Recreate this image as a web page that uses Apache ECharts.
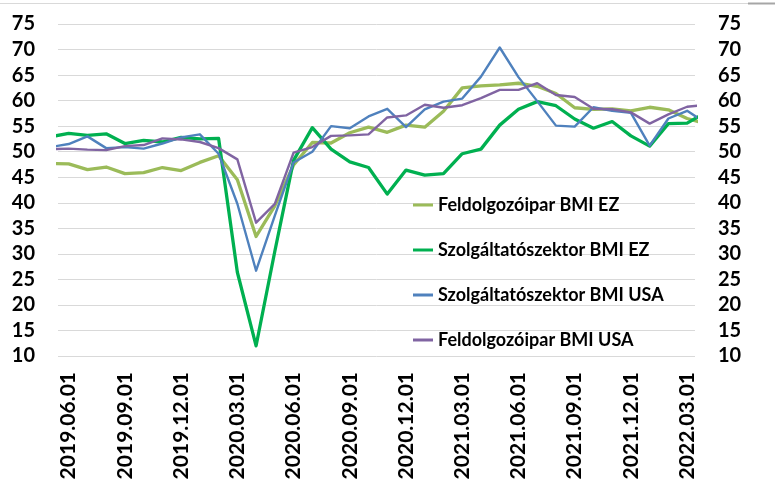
<!DOCTYPE html>
<html>
<head>
<meta charset="utf-8">
<script src="https://cdn.jsdelivr.net/npm/echarts@6.0.0/dist/echarts.min.js"></script>
<style>
  html, body { margin: 0; padding: 0; background: #fff; }
  #chart { width: 775px; height: 485px; }
</style>
</head>
<body>
<div id="chart"></div>
<script>
// havi dátumok (az első és az utolsó pont a rajzterület szélén le van vágva)
var months = [
  '2019.05.01', '2019.06.01', '2019.07.01', '2019.08.01', '2019.09.01', '2019.10.01', '2019.11.01', '2019.12.01',
  '2020.01.01', '2020.02.01', '2020.03.01', '2020.04.01', '2020.05.01', '2020.06.01',
  '2020.07.01', '2020.08.01', '2020.09.01', '2020.10.01', '2020.11.01', '2020.12.01',
  '2021.01.01', '2021.02.01', '2021.03.01', '2021.04.01', '2021.05.01', '2021.06.01',
  '2021.07.01', '2021.08.01', '2021.09.01', '2021.10.01', '2021.11.01', '2021.12.01',
  '2022.01.01', '2022.02.01', '2022.03.01', '2022.04.01'
];
var tickLabels = ['2019.06.01', '2019.09.01', '2019.12.01', '2020.03.01', '2020.06.01', '2020.09.01',
  '2020.12.01', '2021.03.01', '2021.06.01', '2021.09.01', '2021.12.01', '2022.03.01'];
var yTicks = [10, 75, 5]; // min, max, lépés

var feldEZ = [47.7, 47.6, 46.5, 47.0, 45.7, 45.9, 46.9, 46.3,
  47.9, 49.2, 44.5, 33.4, 39.4, 47.4, 51.8, 51.7, 53.7, 54.8, 53.8, 55.2,
  54.8, 57.9, 62.5, 62.9, 63.1, 63.4, 62.8, 61.4, 58.6, 58.3, 58.4, 58.0,
  58.7, 58.2, 56.5, 55.5];
var szolgEZ = [52.9, 53.6, 53.2, 53.5, 51.6, 52.2, 51.9, 52.8,
  52.5, 52.6, 26.4, 12.0, 30.5, 48.3, 54.7, 50.5, 48.0, 46.9, 41.7, 46.4,
  45.4, 45.7, 49.6, 50.5, 55.2, 58.3, 59.8, 59.0, 56.4, 54.6, 55.9, 53.1,
  51.1, 55.5, 55.6, 57.7];
var szolgUSA = [50.9, 51.5, 53.0, 50.7, 50.9, 50.6, 51.6, 52.8,
  53.4, 49.6, 39.8, 26.7, 37.5, 47.9, 50.0, 55.0, 54.6, 56.9, 58.4, 54.8,
  58.3, 59.8, 60.4, 64.7, 70.4, 64.6, 59.9, 55.1, 54.9, 58.7, 58.0, 57.6,
  51.2, 56.5, 58.0, 55.6];
var feldUSA = [50.5, 50.6, 50.4, 50.3, 51.1, 51.3, 52.6, 52.4,
  51.9, 50.7, 48.5, 36.1, 39.8, 49.8, 50.9, 53.1, 53.2, 53.4, 56.7, 57.1,
  59.2, 58.6, 59.1, 60.5, 62.1, 62.1, 63.4, 61.1, 60.7, 58.4, 58.3, 57.7,
  55.5, 57.3, 58.8, 59.2];

var seriesNames = ['Feldolgozóipar BMI EZ', 'Szolgáltatószektor BMI EZ', 'Szolgáltatószektor BMI USA', 'Feldolgozóipar BMI USA'];
var seriesData = [feldEZ, szolgEZ, szolgUSA, feldUSA];
var seriesColors = ['#9BBB59', '#00B050', '#4F81BD', '#8064A2'];
var seriesWidth = [3.3, 3.3, 2.4, 2.4];

var font = 'Lato, "Open Sans", sans-serif';

//pontok: [hónap sorszáma, érték]
function toPoints(arr) {
  var out = [];
  for (var i = 0; i < arr.length; i++) {
    out.push([i, arr[i]]);
  }
  return out;
}

var series = [];
for (var s = 0; s < seriesNames.length; s++) {
  series.push({
    name: seriesNames[s],
    type: 'line',
    data: toPoints(seriesData[s]),
    symbol: 'none',
    color: seriesColors[s],
    lineStyle: { width: seriesWidth[s], color: seriesColors[s], join: 'round' },
    emphasis: { disabled: true },
    clip: true
  });
}

var yAxisBase = {
  type: 'value',
  min: yTicks[0],
  max: yTicks[1],
  interval: yTicks[2],
  axisLine: { show: false },
  axisTick: { show: false },
  axisLabel: { color: '#000', fontSize: 20, fontWeight: 'bold', fontFamily: font, margin: 23 }
};

var chart = echarts.init(document.getElementById('chart'));
chart.setOption({
  backgroundColor: '#fff',
  animation: false,
  grid: { left: 58, right: 80, top: 24, bottom: 129, containLabel: false },
  legend: {
    orient: 'vertical',
    left: 408,
    top: 190,
    icon: 'rect',
    itemWidth: 20,
    itemHeight: 3,
    itemGap: 25,
    data: seriesNames,
    textStyle: { color: '#000', fontSize: 18, fontWeight: 'bold', fontFamily: font, lineHeight: 20 }
  },
  xAxis: {
    type: 'value',
    min: 0.43,
    max: 34.42,
    axisLine: { show: false },
    axisTick: { show: false },
    splitLine: { show: false },
    axisLabel: {
      customValues: tickLabels.map(function (l) { return months.indexOf(l); }),
      formatter: function (v) { return months[Math.round(v)]; },
      rotate: 90,
      margin: 16,
      color: '#000',
      fontSize: 21,
      fontWeight: 'bold',
      fontFamily: font
    }
  },
  yAxis: [
    Object.assign({}, yAxisBase, {
      position: 'left',
      splitLine: { lineStyle: { color: '#D9D9D9', width: 1 } }
    }),
    Object.assign({}, yAxisBase, {
      position: 'right',
      splitLine: { show: false }
    })
  ],
  graphic: [
    { type: 'line', shape: { x1: 0, y1: 3.5, x2: 748, y2: 3.5 }, style: { stroke: '#D9D9D9', lineWidth: 1 } },
    { type: 'line', shape: { x1: 748, y1: 3.5, x2: 775, y2: 3.5 }, style: { stroke: '#A6A6A6', lineWidth: 2 } }
  ],
  series: series
});
</script>
</body>
</html>
